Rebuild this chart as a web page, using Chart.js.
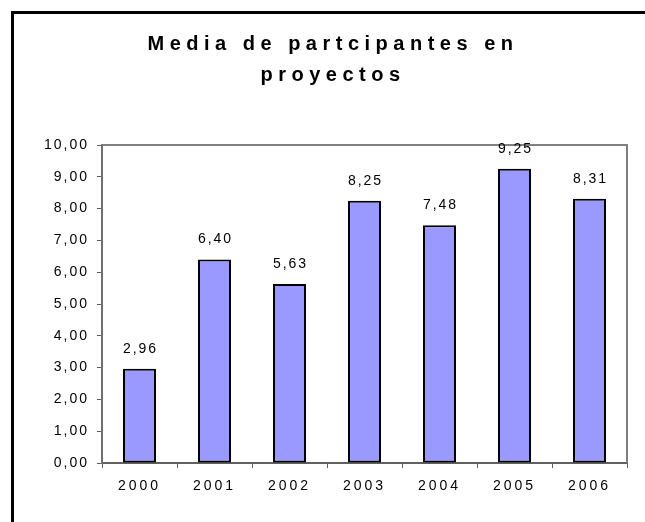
<!DOCTYPE html>
<html>
<head>
<meta charset="utf-8">
<script src="https://cdn.jsdelivr.net/npm/chart.js@4"></script>
<style>
  html, body { margin: 0; padding: 0; background: #fff; }
  #wrap { width: 645px; height: 522px; position: relative; }
</style>
</head>
<body>
<div id="wrap"><canvas id="c" width="645" height="522"></canvas></div>
<script>
const TITLE_LINES = ['Media de partcipantes en', 'proyectos'];
const YEARS = ['2000', '2001', '2002', '2003', '2004', '2005', '2006'];
const MEDIA = [2.96, 6.40, 5.63, 8.25, 7.48, 9.25, 8.31];
const Y_MIN = 0, Y_MAX = 10, Y_STEP = 1;

const FONT = '"Liberation Sans", Arial, sans-serif';
const fmt = v => Number(v).toFixed(2).replace('.', ',');

const framePlugin = {
  id: 'frame',
  beforeDraw(chart) {
    const ctx = chart.ctx;
    ctx.save();
    ctx.fillStyle = '#fff';
    ctx.fillRect(0, 0, chart.width, chart.height);
    ctx.fillStyle = '#000';
    ctx.fillRect(11, 11, chart.width, 3);
    ctx.fillRect(11, 11, 3, chart.height);
    // title
    ctx.font = 'bold 20px ' + FONT;
    ctx.letterSpacing = '5.5px';
    ctx.textAlign = 'center';
    ctx.textBaseline = 'alphabetic';
    ctx.fillText(TITLE_LINES[0], 333, 50);
    ctx.fillText(TITLE_LINES[1], 333, 81);
    ctx.restore();
    ctx.letterSpacing = '2px';
    const sx = chart.scales.x;
    if (sx && !sx._lsWrapped) {
      const o = sx.drawLabels.bind(sx);
      sx.drawLabels = (ca) => { const c = chart.ctx; c.save(); c.letterSpacing = '3px'; o(ca); c.restore(); };
      sx._lsWrapped = true;
    }
  },
  beforeDatasetsDraw(chart) {
    const ctx = chart.ctx, a = chart.chartArea;
    ctx.save();
    ctx.strokeStyle = '#808080';
    ctx.lineWidth = 2;
    ctx.beginPath();
    ctx.moveTo(a.left, a.top);
    ctx.lineTo(a.right, a.top);
    ctx.lineTo(a.right, a.bottom);
    ctx.stroke();
    ctx.restore();
  },
  afterDatasetsDraw(chart) {
    const ctx = chart.ctx;
    const meta = chart.getDatasetMeta(0);
    ctx.save();
    ctx.font = '14px ' + FONT;
    ctx.letterSpacing = '2px';
    ctx.fillStyle = '#000';
    ctx.textAlign = 'center';
    ctx.textBaseline = 'middle';
    meta.data.forEach((bar, i) => {
      ctx.fillText(fmt(MEDIA[i]), bar.x + 1, bar.y - 20);
    });
    ctx.restore();
  }
};

new Chart(document.getElementById('c'), {
  type: 'bar',
  data: {
    labels: YEARS,
    datasets: [{
      data: MEDIA,
      backgroundColor: '#9999FF',
      borderColor: '#000',
      borderWidth: 2,
      borderSkipped: false,
      categoryPercentage: 1,
      barPercentage: 0.44
    }]
  },
  options: {
    responsive: false,
    animation: false,
    devicePixelRatio: 1,
    layout: { padding: { top: 145, left: 0, right: 18, bottom: 0 } },
    plugins: { legend: { display: false }, title: { display: false }, tooltip: { enabled: false } },
    scales: {
      x: {
        afterFit(s) { s.height = 59; },
        grid: { display: true, drawOnChartArea: false, drawTicks: true, tickLength: 5, color: '#606060', offset: true },
        border: { display: true, color: '#606060', width: 2 },
        ticks: { color: '#000', font: { family: FONT, size: 14 }, padding: 10, maxRotation: 0 }
      },
      y: {
        min: Y_MIN, max: Y_MAX,
        afterFit(s) { s.width = 102; },
        grid: { display: true, drawOnChartArea: false, drawTicks: true, tickLength: 5, color: '#606060' },
        border: { display: true, color: '#707070', width: 2 },
        ticks: { stepSize: Y_STEP, color: '#000', font: { family: FONT, size: 14 }, padding: 8, callback: v => fmt(v) }
      }
    }
  },
  plugins: [framePlugin]
});
</script>
</body>
</html>
